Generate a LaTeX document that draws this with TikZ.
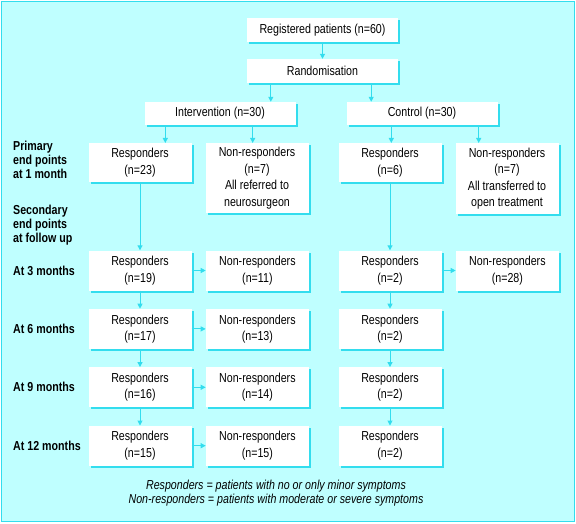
\documentclass[tikz,border=0pt]{standalone}
\usepackage{fontspec}
\setmainfont{Liberation Sans}[FakeStretch=0.82]
\usetikzlibrary{shadows}
\usetikzlibrary{arrows.meta}
\usetikzlibrary{positioning}
\usetikzlibrary{chains}
\usetikzlibrary{scopes}

\definecolor{bgcyan}{HTML}{BFFFFF}
\definecolor{linecyan}{HTML}{33DDEE}

\tikzset{
  box/.style={fill=white,
    drop shadow={shadow xshift=2pt,shadow yshift=-2pt,fill=linecyan,opacity=1},
    align=center, inner sep=0pt, minimum width=103pt, minimum height=40pt,
    font=\fontsize{13}{16.5}\selectfont},
  widebox/.style={box, minimum width=151pt, minimum height=24pt},
  rowlab/.style={anchor=west, align=left, inner sep=0pt,
    font=\fontsize{13}{14}\selectfont\bfseries},
  arr/.style={draw=linecyan, line width=1pt, -{Triangle[length=5pt,width=5pt]}}
}

\begin{document}
\begin{tikzpicture}[x=1pt,y=-1pt,
        every on chain/.style=join,every join/.style=arr,
        node distance=18pt and 14pt]
        \useasboundingbox (0,0) rectangle (576,524);
        \fill[bgcyan, draw=linecyan, line width=1pt] (1.5,1.5) rectangle (574.5,521.5);

        % top of the trial
        \node [widebox] (reg) at (322.5,30) {Registered patients (n=60)};
        \node [widebox] (rand) at (322.5,71) {Randomisation};
        \node [widebox, minimum height=23pt] (int) at (220,113.5) {Intervention (n=30)};
        \node [widebox, minimum height=23pt] (ctl) at (422,113.5) {Control (n=30)};

        % primary end points
        \node [box, anchor=north, minimum height=39pt] (ia) at (140,143) {Responders\\(n=23)};
        \node [box, anchor=north, minimum height=70pt] (ib) at (257,143)
            {Non-responders\\(n=7)\\All referred to\\neurosurgeon};
        \node [box, anchor=north, minimum height=39pt] (ic) at (390,143) {Responders\\(n=6)};
        \node [box, anchor=north, minimum height=71pt] (id) at (507,143)
            {Non-responders\\(n=7)\\All transferred to\\open treatment};

        % secondary end points, one chain per arm
        { [start chain=respA going below]
            \node [box, on chain] (a3) at (140,270.5) {Responders\\(n=19)};
            \node [box, on chain] (a6) {Responders\\(n=17)};
            \node [box, on chain] (a9) {Responders\\(n=16)};
            \node [box, on chain] (a12) {Responders\\(n=15)};
        }
        { [start chain=respC going below]
            \node [box, on chain] (c3) at (390,270.5) {Responders\\(n=2)};
            \node [box, on chain] (c6) {Responders\\(n=2)};
            \node [box, on chain] (c9) {Responders\\(n=2)};
            \node [box, on chain] (c12) {Responders\\(n=2)};
        }
        \node [box, right=of a3] (b3) {Non-responders\\(n=11)};
        \node [box, right=of a6] (b6) {Non-responders\\(n=13)};
        \node [box, right=of a9] (b9) {Non-responders\\(n=14)};
        \node [box, right=of a12] (b12) {Non-responders\\(n=15)};
        \node [box, right=of c3] (d3) {Non-responders\\(n=28)};

        % row labels
        \node [rowlab] (prim) at (13,160) {Primary\\end points\\at 1 month};
        \node [rowlab] (sec) at (13,225) {Secondary\\end points\\at follow up};
        \node [rowlab] (m3) at (13,0 |- a3) {At 3 months};
        \node [rowlab] (m6) at (13,0 |- a6) {At 6 months};
        \node [rowlab] (m9) at (13,0 |- a9) {At 9 months};
        \node [rowlab] (m12) at (13,0 |- a12) {At 12 months};

        \node [align=center, font=\fontsize{13}{14}\selectfont\itshape] (note) at (276,493)
            {Responders = patients with no or only minor symptoms\\
             Non-responders = patients with moderate or severe symptoms};

        % connectors
        \coordinate (r1) at ([xshift=24pt]rand.south west);
        \coordinate (r2) at ([xshift=-27pt]rand.south east);
        \coordinate (i1) at ([xshift=21pt]int.south west);
        \coordinate (i2) at ([xshift=-43pt]int.south east);
        \coordinate (k1) at ([xshift=45pt]ctl.south west);
        \coordinate (k2) at ([xshift=-19pt]ctl.south east);
        \draw [arr] (reg) -- (rand);
        \draw [arr] (r1) -- (r1 |- int.north);
        \draw [arr] (r2) -- (r2 |- ctl.north);
        \draw [arr] (i1) -- (i1 |- ia.north);
        \draw [arr] (i2) -- (i2 |- ib.north);
        \draw [arr] (k1) -- (k1 |- ic.north);
        \draw [arr] (k2) -- (k2 |- id.north);
        \draw [arr] (ia) -- (a3);
        \draw [arr] (ic) -- (c3);
        \foreach \m in {3,6,9,12}
            \draw [arr] (a\m) -- (b\m);
        \draw [arr] (c3) -- (d3);
    \end{tikzpicture}
\end{document}
